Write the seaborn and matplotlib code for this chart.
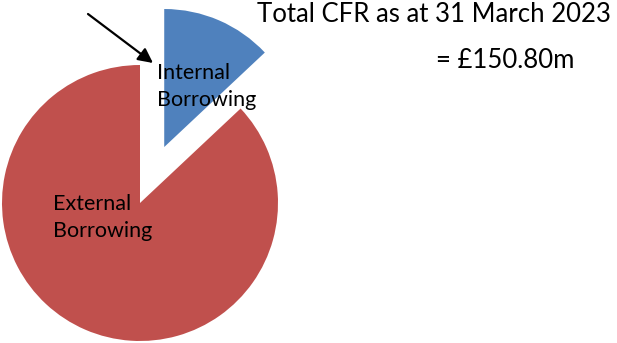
import matplotlib
matplotlib.use("Agg")
import matplotlib.pyplot as plt
import seaborn as sns

# Data
categories = ["External\nBorrowing", "Internal\nBorrowing"]
shares = [87.0, 13.0]
title_line1 = "Total CFR as at 31 March 2023"
title_line2 = "= £150.80m"

sns.set_theme(style="white")
plt.rcParams['font.family'] = ['Lato', 'DejaVu Sans']

W, H = 617, 343
fig = plt.figure(figsize=(W / 100, H / 100), dpi=100)
ax = fig.add_axes([0, 0, 1, 1])

colors = ["#C0504D", "#4F81BD"]
R = 138
cx, cy = 140, H - 203
ax.pie(shares, colors=colors, startangle=90, counterclock=True,
       radius=R, center=(cx, cy), explode=[0, 61],
       wedgeprops=dict(linewidth=0))
ax.set_xlim(0, W)
ax.set_ylim(0, H)
ax.set_aspect('equal')
ax.axis('off')

fs_lab = 15.5
ax.text(157, H - 63, categories[1], ha='left', va='top', fontsize=fs_lab,
        color='black', linespacing=1.45)
ax.text(53, H - 194, categories[0], ha='left', va='top', fontsize=fs_lab,
        color='black', linespacing=1.45)

ax.text(257, H - 2, title_line1, ha='left', va='top', fontsize=18.5, color='black')
ax.text(436, H - 48, title_line2, ha='left', va='top', fontsize=18.5, color='black')

ax.annotate('', xy=(153, H - 63), xytext=(88, H - 14),
            arrowprops=dict(arrowstyle='-|>', lw=1.6, color='black',
                            mutation_scale=22, shrinkA=0, shrinkB=0))

fig.savefig("out.png", dpi=100)
